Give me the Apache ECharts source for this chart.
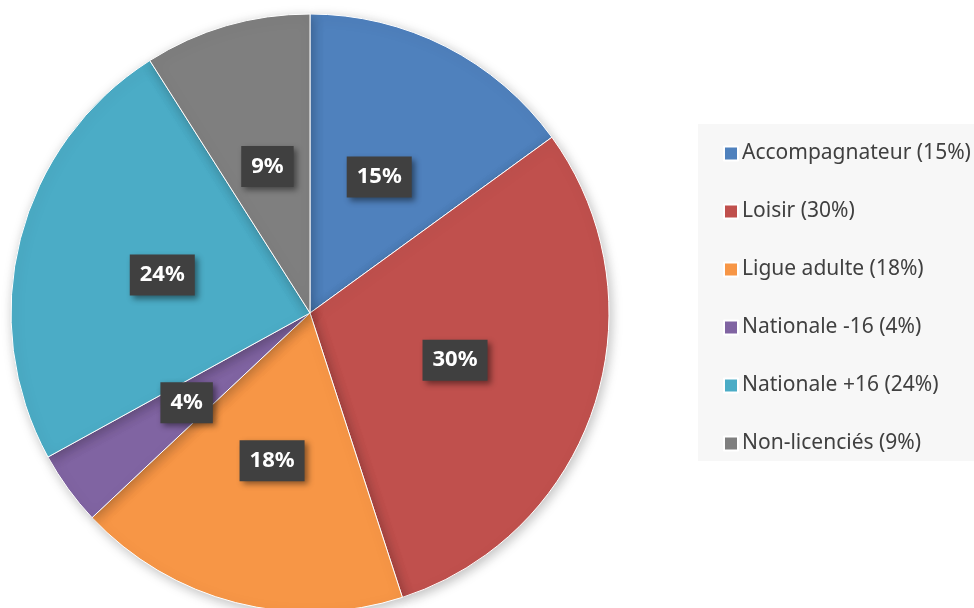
<!DOCTYPE html>
<html>
<head>
<meta charset="utf-8">
<style>
  html, body { margin: 0; padding: 0; background: #ffffff; }
  #chart { width: 974px; height: 608px; }
</style>
</head>
<body>
<div id="chart"></div>
<script src="https://cdn.jsdelivr.net/npm/echarts@6/dist/echarts.min.js"></script>
<script type="text/javascript">
  // data
  var categories = ['Accompagnateur', 'Loisir', 'Ligue adulte', 'Nationale -16', 'Nationale +16', 'Non-licenciés'];
  var values = [15, 30, 18, 4, 24, 9];
  var colors = ['#4F81BD', '#C0504D', '#F79646', '#8064A2', '#4BACC6', '#7F7F7F'];

  var chart = echarts.init(document.getElementById('chart'));

  var total = values.reduce(function (a, b) { return a + b; }, 0);
  var pieData = [];
  for (var i = 0; i < categories.length; i++) {
    pieData.push({ name: categories[i], value: values[i] });
  }

  var option = {
    animation: false,
    color: colors,
    legend: {
      orient: 'vertical',
      left: 698,
      top: 124,
      padding: [19, 40, 7, 25],
      backgroundColor: '#f7f7f7',
      itemWidth: 14,
      itemHeight: 14,
      itemGap: 37,
      icon: 'rect',
      textStyle: {
        color: '#404040',
        fontSize: 21,
        fontFamily: 'Noto Sans',
        lineHeight: 20,
        padding: [0, 0, 0, -1]
      },
      formatter: function (name) {
        var idx = categories.indexOf(name);
        return name + ' (' + Math.round(values[idx] / total * 100) + '%)';
      },
      data: categories
    },
    series: [{
      name: 'Répartition',
      type: 'pie',
      center: [310, 313],
      radius: 299,
      startAngle: 90,
      clockwise: true,
      itemStyle: {
        borderColor: '#ffffff',
        borderWidth: 1,
        shadowBlur: 12,
        shadowColor: 'rgba(0,0,0,0.25)',
        shadowOffsetX: 2,
        shadowOffsetY: 3
      },
      label: {
        show: true,
        position: 'inside',
        formatter: '{d}%',
        color: '#ffffff',
        fontSize: 22,
        lineHeight: 25,
        fontWeight: 'bold',
        fontFamily: 'Noto Sans',
        backgroundColor: '#404040',
        padding: [8, 10, 8, 10],
        shadowBlur: 6,
        shadowColor: 'rgba(0,0,0,0.45)',
        shadowOffsetX: 3,
        shadowOffsetY: 3
      },
      labelLine: { show: false },
      emphasis: { disabled: true },
      data: pieData
    }]
  };

  chart.setOption(option);
</script>
</body>
</html>
